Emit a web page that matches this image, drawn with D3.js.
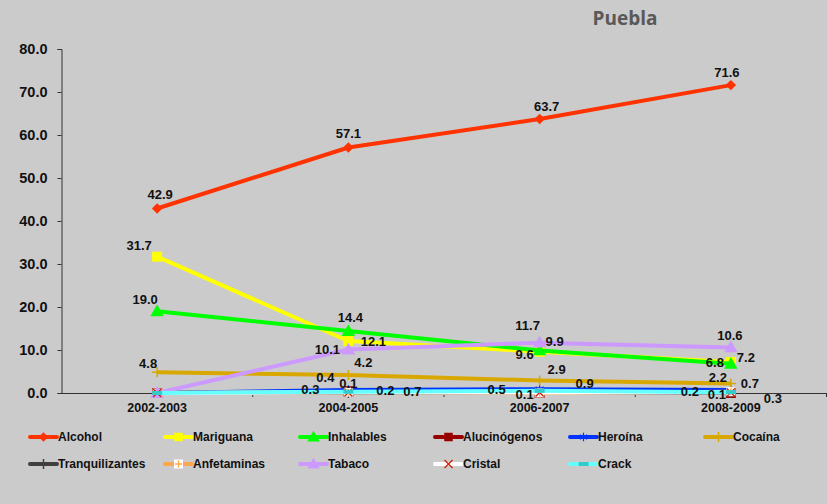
<!DOCTYPE html>
<html><head><meta charset="utf-8">
<script src="https://cdn.jsdelivr.net/npm/d3@7"></script>
<style>
html,body{margin:0;padding:0;background:#cbcbcb;}
svg{display:block;}
</style></head>
<body>
<svg id="c" width="827" height="504"></svg>
<script>
const categories = ["2002-2003","2004-2005","2006-2007","2008-2009"];
const yTicks = [0,10,20,30,40,50,60,70,80];
const title = "Puebla";

const alcohol        = [42.9, 57.1, 63.7, 71.6];
const mariguana      = [31.7, 12.1, 9.6, 7.2];
const inhalables     = [19.0, 14.4, 9.9, 6.8];
const alucinogenos   = [0, 0.4, 0, 0];
const heroina        = [0, 0.7, 0.9, 0.7];
const cocaina        = [4.8, 4.2, 2.9, 2.2];
const tranquilizantes= [0, 0, 0, 0];
const anfetaminas    = [0, 0.2, 0, 0.3];
const tabaco         = [0, 10.1, 11.7, 10.6];
const cristal        = [0, 0.1, 0.1, 0.1];
const crack          = [0, 0.3, 0.5, 0.2];

const seriesNames = ["Alcohol","Mariguana","Inhalables","Alucinógenos","Heroína","Cocaína",
  "Tranquilizantes","Anfetaminas","Tabaco","Cristal","Crack"];
const seriesValues = [alcohol,mariguana,inhalables,alucinogenos,heroina,cocaina,
  tranquilizantes,anfetaminas,tabaco,cristal,crack];

// styles (separate from data)
const styles = {
  "Alcohol":        {color:"#ff3300", marker:"diamond"},
  "Mariguana":      {color:"#ffff00", marker:"square"},
  "Inhalables":     {color:"#00ff00", marker:"triangle"},
  "Alucinógenos":   {color:"#990000", marker:"square"},
  "Heroína":        {color:"#0033ff", marker:"asterisk"},
  "Cocaína":        {color:"#d9a800", marker:"plus"},
  "Tranquilizantes":{color:"#404040", marker:"plus"},
  "Anfetaminas":    {color:"#ffa64d", marker:"boxplus"},
  "Tabaco":         {color:"#cc99ff", marker:"triangle"},
  "Cristal":        {color:"#ffffff", marker:"x"},
  "Crack":          {color:"#66ffff", marker:"dash"}
};
// label offsets [dx,dy] per point (layout, not data)
const labelOffsets = {
  "Alcohol":[[3,-14],[0,-14],[7,-13],[-4,-13]],
  "Mariguana":[[-18,-11],[25,0],[-15,3],[15,-5]],
  "Inhalables":[[-12,-12],[2,-14],[15,-9],[-16,-1]],
  "Alucinógenos":[[0,0],[-23,-14],[0,0],[0,0]],
  "Heroína":[[0,0],[64,1],[45,-6],[19,-7]],
  "Cocaína":[[-9,-9],[15,-12],[17,-11],[-13,-6]],
  "Tranquilizantes":[[0,0],[0,0],[0,0],[0,0]],
  "Anfetaminas":[[0,0],[37,-2],[0,0],[42,7]],
  "Tabaco":[[0,0],[-21,0],[-12,-17],[-1,-12]],
  "Cristal":[[0,0],[0,-9],[-15,2],[-14,2]],
  "Crack":[[0,0],[-38,-2],[-43,-1],[-41,-1]]
};

const svg = d3.select("#c");
svg.append("rect").attr("width",827).attr("height",504).attr("fill","#cbcbcb");

const x = d3.scalePoint().domain(categories).range([61.5, 826.5]).padding(0.5);
const xb = d3.scaleBand().domain(categories).range([61.5, 826.5]);
const y = d3.scaleLinear().domain([0,80]).range([393, 49]);

// title
svg.append("text").attr("x",625).attr("y",25).attr("text-anchor","middle")
  .attr("font-family","'Open Sans', sans-serif").attr("font-weight",700)
  .attr("font-size",19).attr("fill","#595959").text(title);

// y axis
const yAxis = d3.axisLeft(y).tickValues(yTicks).tickFormat(d3.format(".1f")).tickSizeOuter(0).tickSize(4).tickPadding(10);
const gy = svg.append("g").attr("transform","translate(61.5,0)").call(yAxis);
gy.selectAll("text").attr("font-family","'Liberation Sans', Arial, sans-serif").attr("font-weight","bold").attr("font-size",14.5).attr("fill","#111");
gy.selectAll("line,path").attr("stroke","#333");

// x axis
const xAxis = d3.axisBottom(xb).tickSize(0).tickPadding(10).tickSizeOuter(0);
const gx = svg.append("g").attr("transform","translate(0,393)").call(xAxis);
gx.select("path").attr("stroke","#333");
gx.selectAll("text").attr("font-family","'Liberation Sans', Arial, sans-serif").attr("font-weight","bold").attr("font-size",12.5).attr("fill","#111");
// boundary ticks
svg.append("g").selectAll("line").data(categories).join("line")
  .attr("x1",d=>xb(d)+xb.bandwidth()).attr("x2",d=>xb(d)+xb.bandwidth())
  .attr("y1",393).attr("y2",397).attr("stroke","#333");

const line = d3.line().x((d,i)=>x(categories[i])).y(d=>y(d));

function drawMarker(g, type, color, cx, cy, legend){
  const s = legend ? 0.85 : 1;
  if(type==="diamond"){
    g.append("path").attr("d",d3.symbol(d3.symbolDiamond2, 70*s)()).attr("transform",`translate(${cx},${cy})`).attr("fill",color);
  } else if(type==="square"){
    g.append("rect").attr("x",cx-5*s).attr("y",cy-5*s).attr("width",10*s).attr("height",10*s).attr("fill",color);
  } else if(type==="triangle"){
    g.append("path").attr("d",d3.symbol(d3.symbolTriangle, 80*s)()).attr("transform",`translate(${cx},${cy+1})`).attr("fill",color);
  } else if(type==="asterisk"){
    g.append("path").attr("d",d3.symbol(d3.symbolAsterisk, 60*s)()).attr("transform",`translate(${cx},${cy})`).attr("fill","none").attr("stroke",color).attr("stroke-width",1.2);
  } else if(type==="plus"){
    g.append("path").attr("d",`M${cx-5},${cy}H${cx+5}M${cx},${cy-5}V${cy+5}`).attr("stroke",color).attr("stroke-width",1.5);
  } else if(type==="boxplus"){
    g.append("rect").attr("x",cx-4.5).attr("y",cy-4.5).attr("width",9).attr("height",9).attr("fill","#ffffff");
    g.append("path").attr("d",`M${cx-3.5},${cy}H${cx+3.5}M${cx},${cy-3.5}V${cy+3.5}`).attr("stroke",color).attr("stroke-width",1.3);
  } else if(type==="x"){
    g.append("path").attr("d",`M${cx-4},${cy-4}L${cx+4},${cy+4}M${cx-4},${cy+4}L${cx+4},${cy-4}`).attr("stroke","#cc2200").attr("stroke-width",1.3);
  } else if(type==="dash"){
    g.append("rect").attr("x",cx-5).attr("y",cy-2).attr("width",10).attr("height",4).attr("fill","#33cccc");
  }
}

const plot = svg.append("g");
seriesNames.forEach((name,si)=>{
  const vals = seriesValues[si];
  const st = styles[name];
  const g = plot.append("g");
  g.append("path").datum(vals).attr("d",line).attr("fill","none")
    .attr("stroke",st.color).attr("stroke-width",4).attr("stroke-linejoin","round");
  vals.forEach((v,i)=>drawMarker(g, st.marker, st.color, x(categories[i]), y(v), false));
});

// data labels
const lbl = svg.append("g").attr("font-family","'Liberation Sans', Arial, sans-serif")
  .attr("font-weight","bold").attr("font-size",13).attr("fill","#111").attr("text-anchor","middle");
seriesNames.forEach((name,si)=>{
  seriesValues[si].forEach((v,i)=>{
    if(v===0) return;
    const o = labelOffsets[name][i];
    lbl.append("text").attr("x",x(categories[i])+o[0]).attr("y",y(v)+o[1])
      .attr("dy","0.35em").text(d3.format(".1f")(v));
  });
});

// legend
const leg = svg.append("g");
const colX = [30,165,300,435,570,705];
const rowY = [437,464];
seriesNames.forEach((name,i)=>{
  const cx = colX[i%6], cy = rowY[Math.floor(i/6)];
  const st = styles[name];
  const g = leg.append("g");
  g.append("line").attr("x1",cx).attr("x2",cx+27).attr("y1",cy).attr("y2",cy)
    .attr("stroke",st.color).attr("stroke-width",4).attr("stroke-linecap","round");
  drawMarker(g, st.marker, st.color, cx+13.5, cy, true);
  g.append("text").attr("x",cx+28).attr("y",cy).attr("dy","0.35em")
    .attr("font-family","'Liberation Sans', Arial, sans-serif").attr("font-weight","bold")
    .attr("font-size",12).attr("fill","#111").text(name);
});
</script>
</body></html>
